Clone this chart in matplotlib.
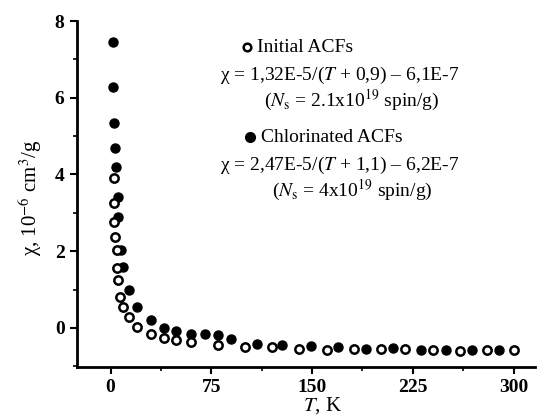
import matplotlib
matplotlib.use("Agg")
import matplotlib.pyplot as plt
from matplotlib.ticker import MultipleLocator

plt.rcParams['font.family'] = ['Liberation Serif', 'DejaVu Serif']
plt.rcParams['mathtext.fontset'] = 'stix'

# Chlorinated ACFs (filled)
T_chl = [1.5, 1.5, 2.2, 3.0, 3.7, 5.2, 5.2, 8, 9.5, 13.4, 20, 30, 40, 48.5, 60, 70, 80,
         90, 109, 128, 149, 169, 190, 210, 231, 250, 269, 289]
chi_chl = [7.45, 6.28, 5.34, 4.69, 4.19, 3.41, 2.89, 2.03, 1.59, 0.99, 0.55, 0.21, 0.0,
           -0.08, -0.16, -0.16, -0.18, -0.29, -0.42, -0.44, -0.47, -0.49, -0.55, -0.52,
           -0.57, -0.57, -0.57, -0.57]

# Initial ACFs (open)
T_ini = [2.2, 2.2, 2.2, 3.0, 4.5, 4.5, 5.2, 7.0, 9, 13.4, 20, 30, 40, 49, 60, 80, 100,
         120, 140, 161, 181, 201, 219, 240, 260, 280, 300]
chi_ini = [3.9, 3.26, 2.76, 2.37, 2.03, 1.56, 1.25, 0.81, 0.55, 0.29, 0.03, -0.16, -0.26,
           -0.31, -0.36, -0.44, -0.49, -0.49, -0.55, -0.57, -0.55, -0.55, -0.55, -0.57,
           -0.6, -0.57, -0.57]

xticks = [0, 75, 150, 225, 300]
yticks = [0, 2, 4, 6, 8]

W, H = 539, 418
fig = plt.figure(figsize=(W / 100, H / 100), dpi=100)
ax = fig.add_axes([77 / W, 1 - 367 / H, (535 - 77) / W, (367 - 21) / H])

ax.plot(T_ini, chi_ini, 'o', ms=6, mfc='white', mec='black', mew=1.8, ls='none', zorder=3)
ax.plot(T_chl, chi_chl, 'o', ms=6.5, mfc='black', mec='black', ls='none', zorder=2)

ax.set_xlim(-25, 316)
ax.set_ylim(-1.02, 8)
ax.set_xticks(xticks)
ax.set_yticks(yticks)
ax.xaxis.set_minor_locator(MultipleLocator(37.5))
ax.yaxis.set_minor_locator(MultipleLocator(1))
for s in ['top', 'right']:
    ax.spines[s].set_visible(False)
for s in ['left', 'bottom']:
    ax.spines[s].set_linewidth(2)
ax.tick_params(which='major', direction='out', length=5, width=1.5, labelsize=14, pad=4)
ax.tick_params(which='minor', direction='out', length=3, width=1.2)
for lab in ax.get_xticklabels() + ax.get_yticklabels():
    lab.set_fontweight('bold')

fig.text(322 / W, 1 - 406 / H, r'$T$, K', fontsize=15, ha='center', va='center')
fig.text(30 / W, 1 - 198 / H, r'χ, 10$^{-6}$ cm$^{3}$/g', fontsize=15, rotation=90,
         ha='center', va='center')

def ftext(x, y, s, **kw):
    fig.text(x / W, 1 - y / H, s, va='center', fontsize=14, **kw)

ax_fig = fig.transFigure
fig.lines.append(plt.Line2D([247 / W], [1 - 47 / H], marker='o', ms=5.5, mfc='white', mec='black',
                            mew=1.8, transform=ax_fig, figure=fig))
ftext(257, 47, 'Initial ACFs', ha='left')
ftext(340, 75, r'χ = 1,32E-5/($T$ + 0,9) – 6,1E-7', ha='center')
ftext(352, 100, r'($N_{\rm s}$ = 2.1x10$^{19}$ spin/g)', ha='center')
fig.lines.append(plt.Line2D([250 / W], [1 - 137 / H], marker='o', ms=7, mfc='black', mec='black',
                            transform=ax_fig, figure=fig))
ftext(261, 137, 'Chlorinated ACFs', ha='left')
ftext(340, 165, r'χ = 2,47E-5/($T$ + 1,1) – 6,2E-7', ha='center')
ftext(352, 190, r'($N_{\rm s}$ = 4x10$^{19}$ spin/g)', ha='center')

fig.savefig('out.png', dpi=100)
